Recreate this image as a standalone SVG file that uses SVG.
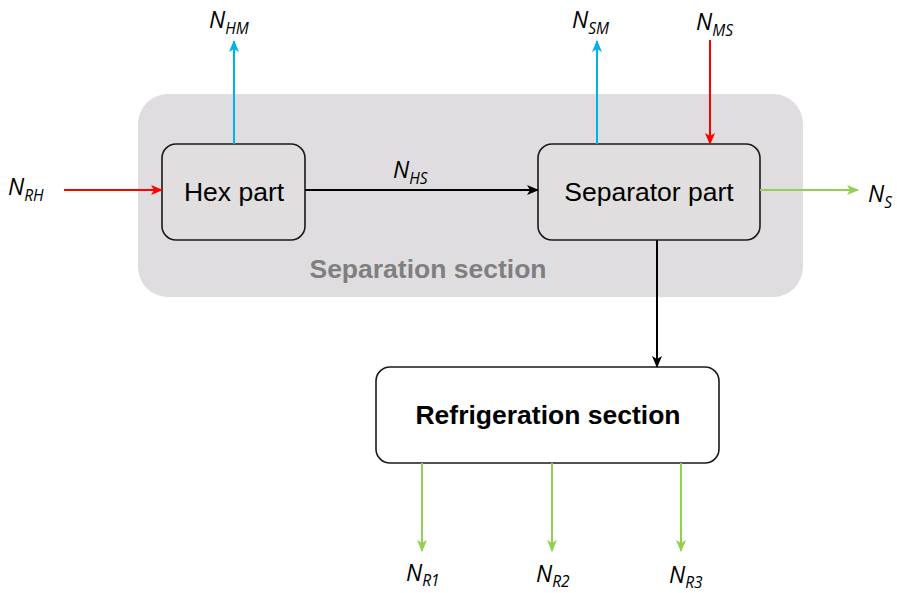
<svg xmlns="http://www.w3.org/2000/svg" width="897" height="593" viewBox="0 0 897 593">
  <style>
    .box { stroke: #1a1a1a; stroke-width: 1.6; }
    .lbl { font-family: "Liberation Sans", Arial, sans-serif; font-size: 26.5px; fill: #000; }
    .var { font-family: "Open Sans", "Liberation Sans", sans-serif; font-style: italic; font-size: 23px; fill: #000; }
    .sub { font-size: 15.5px; }
    .flow { fill: none; stroke-width: 2; }
    .red { stroke: #ff0000; }
    .blue { stroke: #00b0f0; }
    .green { stroke: #92d050; }
    .black { stroke: #000; }
  </style>
  <defs>
    <marker id="ah-red" viewBox="0 0 12 10" refX="11" refY="5" markerWidth="12" markerHeight="10" markerUnits="userSpaceOnUse" orient="auto">
      <path d="M0,0 L12,5 L0,10 L3,5 Z" fill="#ff0000"/>
    </marker>
    <marker id="ah-blue" viewBox="0 0 12 10" refX="11" refY="5" markerWidth="12" markerHeight="10" markerUnits="userSpaceOnUse" orient="auto">
      <path d="M0,0 L12,5 L0,10 L3,5 Z" fill="#00b0f0"/>
    </marker>
    <marker id="ah-green" viewBox="0 0 12 10" refX="11" refY="5" markerWidth="12" markerHeight="10" markerUnits="userSpaceOnUse" orient="auto">
      <path d="M0,0 L12,5 L0,10 L3,5 Z" fill="#92d050"/>
    </marker>
    <marker id="ah-black" viewBox="0 0 12 10" refX="11" refY="5" markerWidth="12" markerHeight="10" markerUnits="userSpaceOnUse" orient="auto">
      <path d="M0,0 L12,5 L0,10 L3,5 Z" fill="#000"/>
    </marker>
  </defs>

  <!-- Separation section container -->
  <g id="separation-section">
    <rect x="138" y="94" width="665" height="203" rx="30" fill="#dfdddf"/>
    <text x="428" y="278" text-anchor="middle" font-family="Liberation Sans, Arial, sans-serif" font-weight="bold" font-size="26.5" fill="#7f7f7f">Separation section</text>
  </g>

  <g id="hex-part">
    <rect class="box" x="162" y="144" width="143" height="96" rx="14" fill="#e0dedf"/>
    <text class="lbl" x="234" y="201" text-anchor="middle">Hex part</text>
  </g>

  <g id="separator-part">
    <rect class="box" x="538" y="144" width="222" height="96" rx="14" fill="#e0dedf"/>
    <text class="lbl" x="649" y="201" text-anchor="middle">Separator part</text>
  </g>

  <g id="refrigeration-section">
    <rect class="box" x="376" y="367" width="343" height="96" rx="14" fill="#fff"/>
    <text class="lbl" x="548" y="424" text-anchor="middle" font-weight="bold">Refrigeration section</text>
  </g>

  <!-- Flows -->
  <g id="connectors">
    <line class="flow red" x1="64" y1="190" x2="162" y2="190" marker-end="url(#ah-red)"/>
    <line class="flow blue" x1="234" y1="144" x2="234" y2="41" marker-end="url(#ah-blue)"/>
    <line class="flow black" x1="305" y1="190" x2="538" y2="190" marker-end="url(#ah-black)"/>
    <line class="flow blue" x1="597" y1="144" x2="597" y2="41" marker-end="url(#ah-blue)"/>
    <line class="flow red" x1="710" y1="40" x2="710" y2="144" marker-end="url(#ah-red)"/>
    <line class="flow green" x1="760" y1="190" x2="858" y2="190" marker-end="url(#ah-green)"/>
    <line class="flow black" x1="657" y1="240" x2="657" y2="367" marker-end="url(#ah-black)"/>
    <line class="flow green" x1="422" y1="463" x2="422" y2="551" marker-end="url(#ah-green)"/>
    <line class="flow green" x1="552" y1="463" x2="552" y2="551" marker-end="url(#ah-green)"/>
    <line class="flow green" x1="681" y1="463" x2="681" y2="551" marker-end="url(#ah-green)"/>
  </g>

  <!-- Stream labels -->
  <g id="labels">
    <text class="var" x="8" y="195">N<tspan class="sub" dy="6">RH</tspan></text>
    <text class="var" x="209" y="28">N<tspan class="sub" dy="6">HM</tspan></text>
    <text class="var" x="393" y="178">N<tspan class="sub" dy="6">HS</tspan></text>
    <text class="var" x="572" y="28">N<tspan class="sub" dy="6">SM</tspan></text>
    <text class="var" x="696" y="30">N<tspan class="sub" dy="6">MS</tspan></text>
    <text class="var" x="868" y="202">N<tspan class="sub" dy="6">S</tspan></text>
    <text class="var" x="406" y="581">N<tspan class="sub" dy="5">R1</tspan></text>
    <text class="var" x="536" y="582">N<tspan class="sub" dy="5">R2</tspan></text>
    <text class="var" x="669" y="583">N<tspan class="sub" dy="5">R3</tspan></text>
  </g>
</svg>
